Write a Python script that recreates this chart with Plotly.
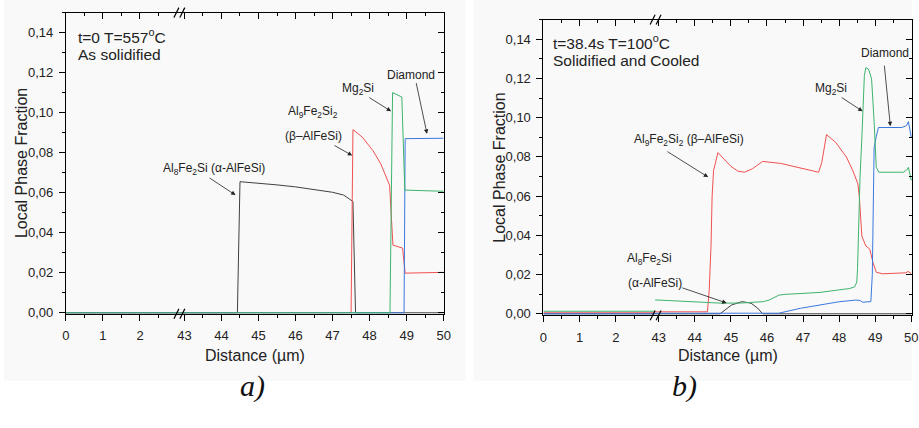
import plotly.graph_objects as go

W, H = 919, 428
FONT = "Liberation Sans, Arial, sans-serif"

# ---------------- data: panel a) t=0, T=557 C ----------------
a_black_x = [0, 3.05, 42.85, 44.43, 44.5, 45.0, 45.5, 46.0, 46.5, 47.0, 47.3, 47.5, 47.55, 47.62, 50]
a_black_y = [0, 0, 0, 0, 0.0655, 0.0648, 0.0639, 0.0629, 0.0617, 0.0602, 0.0588, 0.0563, 0.0556, 0, 0]

a_red_x = [0, 3.05, 42.85, 47.5, 47.55, 47.8, 48.09, 48.3, 48.54, 48.63, 48.89, 48.96, 50]
a_red_y = [0, 0, 0, 0, 0.0915, 0.0878, 0.081, 0.0745, 0.0637, 0.0338, 0.0323, 0.0198, 0.0202]

a_blue_x = [0, 3.05, 42.85, 48.93, 48.96, 50]
a_blue_y = [0, 0, 0, 0, 0.087, 0.0872]

a_green_x = [0, 3.05, 42.85, 48.55, 48.62, 48.87, 48.95, 50]
a_green_y = [0, 0, 0, 0, 0.110, 0.1078, 0.0613, 0.0607]

# ---------------- data: panel b) t=38.4 s, T=100 C ----------------
b_black_x = [0, 3.08, 42.9, 44.7, 45.02, 45.31, 45.56, 45.74, 45.88, 50]
b_black_y = [0, 0, 0, 0, 0.0045, 0.0062, 0.0054, 0.0029, 0, 0]

b_red_x = [0, 3.08, 43.0, 44.35, 44.4, 44.45, 44.48, 44.52, 44.64, 44.8, 45.0, 45.2, 45.38, 45.6,
           45.88, 46.38, 47.43, 47.52, 47.65, 47.9, 48.2, 48.38, 48.52, 48.56, 48.63, 48.74,
           48.85, 48.94, 49.03, 49.2, 49.85, 49.91, 50]
b_red_y = [0.0005, 0.0005, 0.001, 0.001, 0.012, 0.035, 0.06, 0.073, 0.0822, 0.079, 0.0752, 0.0727,
           0.0722, 0.074, 0.0777, 0.0767, 0.0722, 0.0772, 0.0914, 0.0875, 0.080, 0.073, 0.0663,
           0.0597, 0.0396, 0.0346, 0.033, 0.026, 0.0212, 0.0204, 0.0209, 0.0216, 0.0205]

b_blue_x = [0, 3.08, 42.9, 46.2, 46.33, 46.93, 47.47, 47.65, 48.02, 48.47, 48.58, 48.65, 48.88,
            48.92, 48.95, 48.97, 49.03, 49.09, 49.74, 49.87, 49.92, 50]
b_blue_y = [0, 0, 0, 0, 0.0003, 0.0028, 0.0045, 0.0053, 0.0062, 0.007, 0.0068, 0.0059, 0.0062,
            0.02, 0.06, 0.0847, 0.0905, 0.095, 0.095, 0.096, 0.098, 0.09]

b_green_x = [0, 3.08, 43.0, 44.0, 44.75, 45.3, 45.9, 46.06, 46.33, 46.5, 47.47, 47.92, 48.29,
             48.43, 48.49, 48.51, 48.56, 48.58, 48.63, 48.7, 48.74, 48.8, 48.83, 48.9, 48.97,
             49.03, 49.1, 49.78, 49.87, 49.92, 50]
b_green_y = [0.0013, 0.0013, 0.007, 0.0062, 0.0054, 0.0055, 0.0062, 0.007, 0.0095, 0.0099, 0.0109,
             0.012, 0.0129, 0.0137, 0.0162, 0.023, 0.06, 0.0697, 0.0897, 0.1215, 0.1255, 0.125,
             0.124, 0.1198, 0.098, 0.0747, 0.0722, 0.0722, 0.0733, 0.0747, 0.068]

x_ticks_low = [0, 1, 2]
x_minor_low = [0.5, 1.5, 2.5]
x_ticks_high = [43, 44, 45, 46, 47, 48, 49, 50]
x_minor_high = [43.5, 44.5, 45.5, 46.5, 47.5, 48.5, 49.5]

COL_BLACK = "#404040"
COL_RED = "#f0504f"
COL_BLUE = "#3a78de"
COL_GREEN = "#3db36c"


def px_x(p):
    return p / W


def px_y(p):
    return 1 - p / H


fig = go.Figure()

panels = [
    dict(series=[(a_black_x, a_black_y, COL_BLACK), (a_red_x, a_red_y, COL_RED),
                 (a_blue_x, a_blue_y, COL_BLUE), (a_green_x, a_green_y, COL_GREEN)],
         xa=("x", "x2"), ya="y"),
    dict(series=[(b_black_x, b_black_y, COL_BLACK), (b_red_x, b_red_y, COL_RED),
                 (b_blue_x, b_blue_y, COL_BLUE), (b_green_x, b_green_y, COL_GREEN)],
         xa=("x5", "x6"), ya="y3"),
]
for p in panels:
    for xs, ys, c in p["series"]:
        for xa in p["xa"]:
            fig.add_trace(go.Scatter(x=xs, y=ys, mode="lines", xaxis=xa, yaxis=p["ya"],
                                     line=dict(color=c, width=1), showlegend=False,
                                     hoverinfo="skip"))

# invisible traces so that the mirror (top / right) frame axes get drawn
for xa, ya in [("x3", "y"), ("x4", "y2"), ("x7", "y3"), ("x8", "y4")]:
    fig.add_trace(go.Scatter(x=[None], y=[None], mode="markers", xaxis=xa, yaxis=ya,
                             showlegend=False, hoverinfo="skip"))

tickfont = dict(family=FONT, size=13, color="#222")


def xaxis(domain, rng, tv, mv, anchor, top=False, overlaying=None):
    d = dict(range=rng, showline=True, linecolor="black", linewidth=1, zeroline=False,
             showgrid=False, tickmode="array", tickvals=tv,
             ticks="inside" if top else "outside", ticklen=6, tickwidth=1, tickcolor="black",
             minor=dict(tickmode="array", tickvals=mv, ticks="inside" if top else "outside",
                        ticklen=3, tickwidth=1, tickcolor="black", showgrid=False),
             showticklabels=not top, tickfont=tickfont, anchor=anchor,
             side="top" if top else "bottom", fixedrange=True, ticklabeloverflow="allow",
             ticklabelstandoff=4)
    if overlaying:
        d["overlaying"] = overlaying
    else:
        d["domain"] = domain
    return d


def yaxis(domain, rng, anchor, right=False, overlaying=None):
    d = dict(range=rng, showline=True, linecolor="black", linewidth=1, zeroline=False,
             showgrid=False, tickmode="linear", tick0=0, dtick=0.02, tickformat=".2f",
             ticks="inside" if right else "outside", ticklen=6, tickwidth=1, tickcolor="black",
             minor=dict(dtick=0.01, tick0=0, ticks="inside" if right else "outside", ticklen=3,
                        tickwidth=1, tickcolor="black", showgrid=False),
             showticklabels=not right, tickfont=tickfont, anchor=anchor,
             side="right" if right else "left", fixedrange=True, ticklabelstandoff=3)
    if overlaying:
        d["overlaying"] = overlaying
    else:
        d["domain"] = domain
    return d


# panel a geometry
a_left, a_brk, a_right = px_x(62.7), px_x(177), px_x(445)
a_ydom = [px_y(319), px_y(12.75)]
a_r1, a_r2, a_yr = [0, 3.05], [42.85, 50], [-0.0005, 0.15]
# panel b geometry
b_left, b_brk, b_right = px_x(546), px_x(659), 1.0
b_ydom = [px_y(320.6), px_y(20)]
b_r1, b_r2, b_yr = [0, 3.08], [42.9, 50.02], [-0.0008, 0.15]

fig.update_layout(
    width=W, height=H, margin=dict(l=0, r=0, t=0, b=0),
    paper_bgcolor="white", plot_bgcolor="rgba(0,0,0,0)",
    separators=", ", font=dict(family=FONT, color="#222"),
    xaxis=xaxis([a_left, a_brk], a_r1, x_ticks_low, x_minor_low, "y"),
    xaxis2=xaxis([a_brk, a_right], a_r2, x_ticks_high, x_minor_high, "y"),
    xaxis3=xaxis(None, a_r1, x_ticks_low, x_minor_low, "y", top=True, overlaying="x"),
    xaxis4=xaxis(None, a_r2, x_ticks_high, x_minor_high, "y", top=True, overlaying="x2"),
    yaxis=yaxis(a_ydom, a_yr, "x"),
    yaxis2=yaxis(None, a_yr, "x2", right=True, overlaying="y"),
    xaxis5=xaxis([b_left, b_brk], b_r1, x_ticks_low, x_minor_low, "y3"),
    xaxis6=xaxis([b_brk, b_right], b_r2, x_ticks_high, x_minor_high, "y3"),
    xaxis7=xaxis(None, b_r1, x_ticks_low, x_minor_low, "y3", top=True, overlaying="x5"),
    xaxis8=xaxis(None, b_r2, x_ticks_high, x_minor_high, "y3", top=True, overlaying="x6"),
    yaxis3=yaxis(b_ydom, b_yr, "x5"),
    yaxis4=yaxis(None, b_yr, "x6", right=True, overlaying="y3"),
)

shapes = []
# faint background panels
shapes.append(dict(type="rect", xref="paper", yref="paper", x0=0, x1=px_x(467), y0=px_y(387),
                   y1=1, fillcolor="#f9f9f9", line=dict(width=0), layer="below"))
shapes.append(dict(type="rect", xref="paper", yref="paper", x0=px_x(475), x1=1, y0=px_y(387),
                   y1=1, fillcolor="#f9f9f9", line=dict(width=0), layer="below"))
# axis break marks "//"
for bx, ytop, ybot in [(177, 12.75, 319), (659, 20, 320.6)]:
    for yc in (ytop, ybot):
        for off in (-2.5, 3.5):
            shapes.append(dict(type="line", xref="paper", yref="paper",
                               x0=px_x(bx + off - 2.5), y0=px_y(yc + 5),
                               x1=px_x(bx + off + 2.5), y1=px_y(yc - 5),
                               line=dict(color="black", width=1.2)))
fig.update_layout(shapes=shapes)

ann = []


def text(xp, yp, s, size=12, xanchor="center", **kw):
    ann.append(dict(x=px_x(xp), y=px_y(yp), xref="paper", yref="paper", text=s, showarrow=False,
                    xanchor=xanchor, yanchor="middle", font=dict(family=FONT, size=size, color="#222"),
                    **kw))


def arrow(xr, yr, tail, head):
    ann.append(dict(x=head[0], y=head[1], ax=tail[0], ay=tail[1], xref=xr, yref=yr, axref=xr,
                    ayref=yr, text="", showarrow=True, arrowhead=2, arrowsize=1.1, arrowwidth=0.8,
                    arrowcolor="#222", standoff=0, startstandoff=0))


# axis titles
text(253.8, 361.7, "Distance (\u00b5m)", size=16)
text(732.5, 361.7, "Distance (\u00b5m)", size=16)
text(17, 166, "Local Phase Fraction", size=16, textangle=-90)
text(501.5, 170, "Local Phase Fraction", size=16, textangle=-90)
# condition labels
text(73, 37, "t=0 T=557<sup>o</sup>C", size=15.5, xanchor="left")
text(73, 55, "As solidified", size=15.5, xanchor="left")
text(554, 43, "t=38.4s T=100<sup>o</sup>C", size=15.5, xanchor="left")
text(554, 62, "Solidified and Cooled", size=15.5, xanchor="left")
# phase labels panel a
text(213, 172, "Al<sub>8</sub>Fe<sub>2</sub>Si (\u03b1-AlFeSi)")
text(313, 114, "Al<sub>9</sub>Fe<sub>2</sub>Si<sub>2</sub>")
text(313, 138, "(\u03b2\u2013AlFeSi)")
text(358, 90, "Mg<sub>2</sub>Si")
text(412, 76, "Diamond")
arrow("x2", "y", (43.64, 0.0678), (44.38, 0.0588))
arrow("x2", "y", (47.01, 0.0840), (47.53, 0.0786))
arrow("x2", "y", (47.95, 0.1080), (48.58, 0.1007))
arrow("x2", "y", (49.25, 0.1155), (49.55, 0.0894))
# phase labels panel b
text(693, 142, "Al<sub>9</sub>Fe<sub>2</sub>Si<sub>2</sub> (\u03b2\u2013AlFeSi)")
text(837, 90, "Mg<sub>2</sub>Si")
text(892, 54, "Diamond")
text(653, 263, "Al<sub>8</sub>Fe<sub>2</sub>Si")
text(659, 288, "(\u03b1-AlFeSi)")
arrow("x6", "y3", (43.2, 0.0832), (44.37, 0.0697))
arrow("x6", "y3", (48.03, 0.1108), (48.65, 0.1033))
arrow("x6", "y3", (49.25, 0.1273), (49.42, 0.0957))
arrow("x6", "y3", (43.61, 0.0135), (44.88, 0.0055))
# sub-figure letters
ann.append(dict(x=px_x(237), y=px_y(412), xref="paper", yref="paper", text="<i>a)</i>",
                showarrow=False, font=dict(family="Liberation Serif, Times New Roman, serif",
                                           size=30, color="#111")))
ann.append(dict(x=px_x(703), y=px_y(412), xref="paper", yref="paper", text="<i>b)</i>",
                showarrow=False, font=dict(family="Liberation Serif, Times New Roman, serif",
                                           size=30, color="#111")))
fig.update_layout(annotations=ann)

fig.write_html("out.html")
